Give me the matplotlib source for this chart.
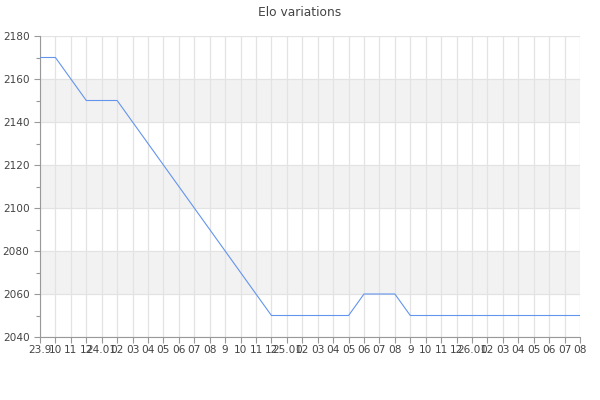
import numpy as np
import matplotlib
matplotlib.use('Agg')
import matplotlib.pyplot as plt
from matplotlib.ticker import MultipleLocator

months = ['23.9', '10', '11', '12',
          '24.01', '02', '03', '04', '05', '06', '07', '08', '9', '10', '11', '12',
          '25.01', '02', '03', '04', '05', '06', '07', '08', '9', '10', '11', '12',
          '26.01', '02', '03', '04', '05', '06', '07', '08']
elo = [2170, 2170, 2160, 2150, 2150, 2150, 2140, 2130, 2120, 2110, 2100, 2090,
       2080, 2070, 2060, 2050, 2050, 2050, 2050, 2050, 2050, 2060, 2060, 2060,
       2050, 2050, 2050, 2050, 2050, 2050, 2050, 2050, 2050, 2050, 2050, 2050]

text_col = '#444444'
grid_col = '#e3e3e3'

fig = plt.figure(figsize=(6, 4), dpi=100)
ax = fig.add_axes([40 / 600, 63 / 400, 540 / 600, 301 / 400])

x = np.arange(len(months))
ax.plot(x, elo, color='#6495ed', linewidth=0.8, zorder=3)

ax.set_xlim(0, len(months) - 1)
ax.set_ylim(2040, 2180)

# alternating grey bands
for lo in range(2060, 2180, 40):
    ax.axhspan(lo, lo + 20, color='#f2f2f2', zorder=0, linewidth=0)

ax.set_xticks(x)
ax.set_xticklabels(months)
ax.yaxis.set_major_locator(MultipleLocator(20))
ax.yaxis.set_minor_locator(MultipleLocator(10))
ax.grid(True, which='major', color=grid_col, linewidth=0.9, zorder=1)
ax.set_axisbelow(True)

for side in ['top', 'right']:
    ax.spines[side].set_visible(False)
for side in ['left', 'bottom']:
    ax.spines[side].set_color('#999999')
    ax.spines[side].set_linewidth(0.8)

ax.tick_params(axis='both', which='both', colors='#999999', labelcolor=text_col,
               labelsize=7.6, length=4, width=0.8)
ax.tick_params(axis='y', which='minor', length=3)
ax.tick_params(axis='x', pad=2)

fig.text(0.5, 1 - 12.5 / 400, 'Elo variations', ha='center', va='center',
         fontsize=8.8, color=text_col)

fig.savefig('out.png', dpi=100)
